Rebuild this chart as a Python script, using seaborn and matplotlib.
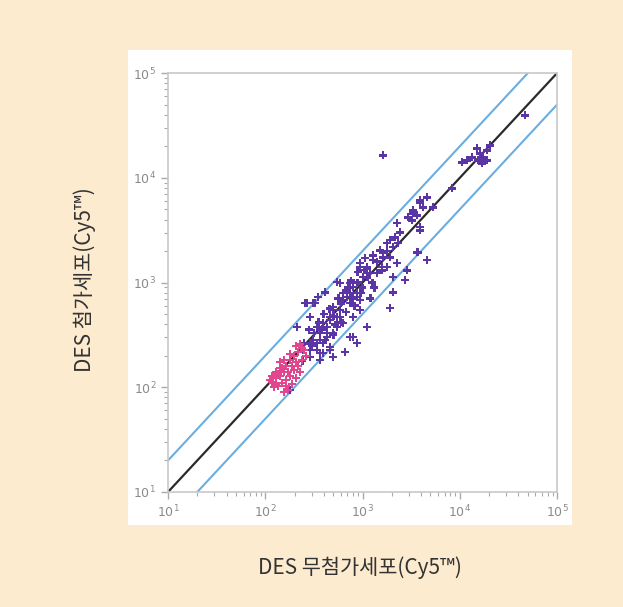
import numpy as np
import pandas as pd
import seaborn as sns
import matplotlib.pyplot as plt
from matplotlib.patches import Rectangle
from matplotlib.ticker import LogLocator, FixedLocator, NullFormatter

# log10 intensities (x = untreated, y = DES treated)
pink_x = [2.073, 2.110, 2.151, 2.192, 2.089, 2.130, 2.172, 2.213, 2.254, 2.295,
          2.336, 2.073, 2.110, 2.151, 2.213, 2.254, 2.295, 2.336, 2.377, 2.357,
          2.398, 2.233, 2.274, 2.316, 2.192, 2.151, 2.110, 2.048, 2.233, 2.192,
          2.274, 2.316, 2.357, 2.377, 2.418, 2.130, 2.172, 2.254, 2.316, 2.213]
pink_y = [2.050, 2.088, 2.107, 2.145, 2.002, 2.011, 2.040, 2.069, 2.107, 2.164,
          2.202, 2.107, 2.145, 2.183, 2.202, 2.260, 2.298, 2.336, 2.374, 2.412,
          2.355, 2.145, 2.202, 2.240, 2.260, 2.240, 2.031, 2.069, 1.973, 1.954,
          2.031, 2.088, 2.145, 2.260, 2.298, 2.126, 2.183, 2.317, 2.393, 2.011]

purple_x = [2.973, 3.025, 3.107, 3.210, 3.282, 3.354, 3.251, 3.045, 3.148, 3.199,
            3.436, 3.312, 3.282, 3.569,
            2.737, 2.768, 2.840, 2.871, 2.901, 2.942, 2.973, 2.871, 2.799, 2.696,
            2.737, 2.665, 2.634, 2.614, 2.429, 2.511, 2.326,
            2.531, 2.562, 2.490, 2.593, 2.665, 2.459, 2.387, 2.819, 2.901, 2.768, 2.634,
            3.210, 4.669, 4.176, 4.207, 4.279, 4.309, 4.237, 4.186, 4.279, 4.022,
            4.073, 4.124, 4.227, 3.919, 3.662, 3.590, 3.621, 3.518, 3.467, 3.559,
            3.590, 3.508, 3.384, 3.333, 3.282, 3.364, 3.724,
            3.590, 3.518, 3.354, 3.251, 3.312, 3.179, 3.210, 3.107, 3.045, 3.076,
            3.004, 3.590, 3.559, 3.662, 3.456, 3.312,
            2.973, 2.871, 2.942, 2.840, 2.696, 2.768, 2.665, 2.593, 2.531, 2.459,
            2.408, 2.490, 2.737, 2.799, 2.901, 2.973, 2.871, 2.696, 2.562, 2.459,
            2.942, 3.045,
            2.562, 2.634, 2.531, 2.665, 2.593, 2.459, 2.696, 2.562, 2.254, 2.542,
            2.80, 2.85, 2.90, 2.95, 3.00, 3.05, 3.10, 2.88, 2.92, 2.98,
            3.02, 2.78, 2.83, 2.75, 2.70, 2.72, 2.66, 2.60, 2.58, 2.55,
            2.50, 2.45, 2.48, 2.40, 2.42, 2.38, 3.15, 3.20, 3.25, 3.12,
            2.62, 2.70, 2.78, 3.08, 2.95]
purple_y = [3.185, 3.233, 3.261, 3.281, 3.242, 3.185, 3.147, 3.137, 3.090, 3.118,
            3.023, 2.908, 2.756, 3.290,
            3.004, 2.994, 2.927, 2.899, 2.956, 2.861, 2.832, 2.803, 2.832, 2.737,
            2.670, 2.641, 2.574, 2.908, 2.803, 2.803, 2.574,
            2.355, 2.326, 2.450, 2.422, 2.355, 2.288, 2.355, 2.336, 2.479, 2.670, 2.517,
            4.216, 4.597, 4.282, 4.235, 4.263, 4.311, 4.197, 4.168, 4.168, 4.149,
            4.168, 4.197, 4.139, 3.901, 3.815, 3.786, 3.719, 3.691, 3.624, 3.643,
            3.529, 3.595, 3.481, 3.433, 3.405, 3.376, 3.719,
            3.758, 3.662, 3.567, 3.376, 3.338, 3.309, 3.242, 3.214, 3.147, 3.090,
            3.052, 3.500, 3.290, 3.214, 3.118, 3.052,
            3.147, 2.994, 2.899, 2.861, 2.765, 2.737, 2.670, 2.613, 2.574, 2.670,
            2.803, 2.803, 2.574, 2.613, 2.670, 2.737, 2.479, 2.517, 2.450, 2.422,
            2.422, 2.574,
            2.517, 2.479, 2.422, 2.384, 2.326, 2.355, 2.288, 2.260, 1.973, 2.861,
            2.90, 2.95, 2.85, 3.00, 2.95, 3.05, 3.00, 3.02, 2.78, 2.90,
            3.12, 2.80, 2.72, 2.85, 2.68, 2.60, 2.75, 2.70, 2.55, 2.62,
            2.52, 2.55, 2.40, 2.42, 2.30, 2.25, 3.20, 3.15, 3.30, 2.95,
            2.45, 2.50, 2.62, 2.85, 3.10]

fold = 2
line_x = [10, 100000]
tick_pos = [10, 100, 1000, 10000, 100000]
tick_labels = ['$10^1$', '$10^2$', '$10^3$', '$10^4$', '$10^5$']

# purple first so the pink cluster sits on top
pts = pd.DataFrame({
    'x': 10 ** np.array(purple_x + pink_x),
    'y': 10 ** np.array(purple_y + pink_y),
    'grp': ['high'] * len(purple_x) + ['low'] * len(pink_x),
})

sns.set_style('white')
plt.rcParams['font.family'] = ['Noto Sans CJK KR', 'DejaVu Sans']

fig = plt.figure(figsize=(6.23, 6.07), dpi=100)
fig.patch.set_facecolor('#fdebd0')
# white panel behind the plot
fig.add_artist(Rectangle((0.2055, 0.135), 0.7125, 0.783, transform=fig.transFigure,
                         facecolor='white', edgecolor='none', zorder=-10))

ax = fig.add_axes([0.2697, 0.1895, 0.6244, 0.690])
ax.set_zorder(1)
ax.set_facecolor('white')

# reference lines: y = x and 2-fold limits
ax.plot(line_x, line_x, color='#2a2a2a', lw=1.6, zorder=2)
ax.plot(line_x, [v * fold for v in line_x], color='#6aaee0', lw=1.5, zorder=2)
ax.plot(line_x, [v / fold for v in line_x], color='#6aaee0', lw=1.5, zorder=2)

sns.scatterplot(data=pts, x='x', y='y', hue='grp',
                palette={'low': '#e2468e', 'high': '#5b35a5'},
                marker='P', s=32, edgecolor='none', legend=False, ax=ax, zorder=3)

ax.set_xscale('log')
ax.set_yscale('log')
ax.set_xlim(10, 100000)
ax.set_ylim(10, 100000)
ax.xaxis.set_major_locator(FixedLocator(tick_pos))
ax.yaxis.set_major_locator(FixedLocator(tick_pos))
ax.set_xticklabels(tick_labels)
ax.set_yticklabels(tick_labels)
ax.xaxis.set_minor_locator(LogLocator(base=10, subs=np.arange(2, 10)))
ax.yaxis.set_minor_locator(LogLocator(base=10, subs=np.arange(2, 10)))
ax.xaxis.set_minor_formatter(NullFormatter())
ax.yaxis.set_minor_formatter(NullFormatter())
ax.tick_params(which='both', direction='out', color='#aaaaaa', labelcolor='#8a8a8a',
               labelsize=9, bottom=True, left=True)
ax.tick_params(which='major', length=5, width=1)
ax.tick_params(which='minor', length=3, width=0.8)
for s in ax.spines.values():
    s.set_color('#c8c8c8')
    s.set_linewidth(1.2)
ax.set_xlabel('')
ax.set_ylabel('')

fig.text(0.578, 0.064, 'DES 무첨가세포(Cy5™)', ha='center', va='center',
         fontsize=15, color='#333333')
fig.text(0.136, 0.539, 'DES 첨가세포(Cy5™)', ha='center', va='center',
         fontsize=15, color='#333333', rotation=90)

fig.savefig('out.png', dpi=100, facecolor=fig.get_facecolor())
